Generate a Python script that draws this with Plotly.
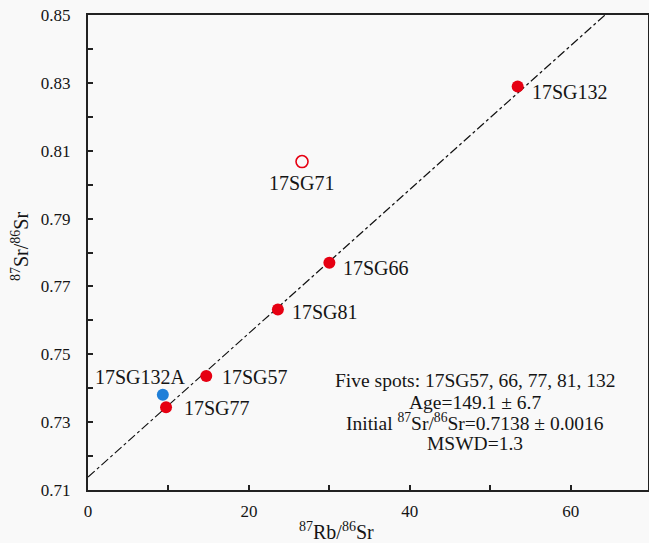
import numpy as np
import plotly.graph_objects as go

# ---- data ----
sample_names = ["17SG57", "17SG66", "17SG77", "17SG81", "17SG132"]
rb_sr = [14.7, 30.0, 9.7, 23.6, 53.4]
sr_sr = [0.7436, 0.7770, 0.7344, 0.7632, 0.8289]

outlier_name = ["17SG71"]
outlier_rb = [26.6]
outlier_sr = [0.8068]

other_name = ["17SG132A"]
other_rb = [9.3]
other_sr = [0.7381]

initial_ratio = 0.7138
age_ma = 149.1
decay_const = 1.42e-11
line_x = [0, 70]

x_ticks = [0, 20, 40, 60]
y_ticks = [0.71, 0.73, 0.75, 0.77, 0.79, 0.81, 0.83, 0.85]

info_lines = [
    "Five spots: 17SG57, 66, 77, 81, 132",
    f"Age={age_ma} ± 6.7",
    f"Initial <sup>87</sup>Sr/<sup>86</sup>Sr={initial_ratio} ± 0.0016",
    "MSWD=1.3",
]

slope = np.exp(decay_const * age_ma * 1e6) - 1
line_y = [initial_ratio + slope * x for x in line_x]

FONT = "Times New Roman"
RED = "#e60012"
BLUE = "#1f7fd8"
INK = "#151515"

# plot area in pixels
L, T, R, B = 88, 15, 648, 490
W, H = 649, 543


def px_x(p):
    return (p - L) / (R - L)


def px_y(p):
    return 1 - (p - T) / (B - T)


fig = go.Figure()
fig.add_trace(go.Scatter(x=line_x, y=line_y, mode="lines",
                         line=dict(color="#111", width=1.2, dash="dashdot"),
                         hoverinfo="skip", showlegend=False))
fig.add_trace(go.Scatter(x=rb_sr, y=sr_sr, mode="markers",
                         marker=dict(color=RED, size=12, line=dict(width=0)),
                         text=sample_names, showlegend=False))
fig.add_trace(go.Scatter(x=outlier_rb, y=outlier_sr, mode="markers",
                         marker=dict(color="rgba(0,0,0,0)", size=12, line=dict(color=RED, width=1.6)),
                         text=outlier_name, showlegend=False))
fig.add_trace(go.Scatter(x=other_rb, y=other_sr, mode="markers",
                         marker=dict(color=BLUE, size=12, line=dict(width=0)),
                         text=other_name, showlegend=False))

label_font = dict(family=FONT, size=20, color=INK)
offsets = {
    "17SG57": (14, -1, "left"),
    "17SG66": (12, -5, "left"),
    "17SG77": (16, -1, "left"),
    "17SG81": (12, -2, "left"),
    "17SG132": (12, -5, "left"),
}
for n, x, y in zip(sample_names, rb_sr, sr_sr):
    dx, dy, anc = offsets[n]
    fig.add_annotation(x=x, y=y, text=n, showarrow=False, xanchor=anc, yanchor="middle",
                       xshift=dx, yshift=dy, font=label_font)
for n, x, y in zip(outlier_name, outlier_rb, outlier_sr):
    fig.add_annotation(x=x, y=y, text=n, showarrow=False, xanchor="center", yanchor="middle",
                       xshift=0, yshift=-21, font=label_font)
for n, x, y in zip(other_name, other_rb, other_sr):
    fig.add_annotation(x=x, y=y, text=n, showarrow=False, xanchor="right", yanchor="middle",
                       xshift=25, yshift=18, font=label_font)

info_y = [380, 402, 422, 443]
for txt, yp in zip(info_lines, info_y):
    fig.add_annotation(x=px_x(475), y=px_y(yp), xref="x domain", yref="y domain",
                       text=txt, showarrow=False, xanchor="center", yanchor="middle",
                       font=dict(family=FONT, size=19.5, color=INK))

# axis titles
fig.add_annotation(x=px_x(336), y=px_y(531), xref="x domain", yref="y domain",
                   text="<sup>87</sup>Rb/<sup>86</sup>Sr", showarrow=False,
                   xanchor="center", yanchor="middle",
                   font=dict(family=FONT, size=20, color=INK))
fig.add_annotation(x=px_x(20), y=px_y(247), xref="x domain", yref="y domain",
                   text="<sup>87</sup>Sr/<sup>86</sup>Sr", showarrow=False, textangle=-90,
                   xanchor="center", yanchor="middle",
                   font=dict(family=FONT, size=20, color=INK))

fig.update_layout(
    width=W, height=H,
    margin=dict(l=L, r=W - R, t=T, b=H - B),
    paper_bgcolor="#f9f9f9", plot_bgcolor="#f9f9f9",
    font=dict(family=FONT, size=17, color=INK),
    showlegend=False,
)
fig.update_xaxes(range=[0, 69.6], tickvals=x_ticks, ticktext=[str(v) for v in x_ticks],
                 ticks="inside", ticklen=5, tickwidth=1.5, tickcolor="#222",
                 minor=dict(ticks="inside", ticklen=5, tickwidth=1.5, tickcolor="#222",
                            tick0=0, dtick=10),
                 showline=True, linecolor="#222", linewidth=2, mirror=True,
                 showgrid=False, zeroline=False, ticklabelstandoff=5, automargin=False,
                 tickfont=dict(family=FONT, size=17, color=INK))
fig.update_yaxes(range=[0.71, 0.85], tickvals=y_ticks, ticktext=[f"{v:.2f}" for v in y_ticks],
                 ticks="inside", ticklen=5, tickwidth=1.5, tickcolor="#222",
                 minor=dict(ticks="inside", ticklen=5, tickwidth=1.5, tickcolor="#222",
                            tick0=0.71, dtick=0.01),
                 showline=True, linecolor="#222", linewidth=2, mirror=True,
                 showgrid=False, zeroline=False, ticklabelstandoff=12, automargin=False,
                 tickfont=dict(family=FONT, size=17, color=INK))

fig.write_html("out.html", config={"displayModeBar": False},
               post_script="document.body.style.margin='0';document.body.style.overflow='hidden';")
